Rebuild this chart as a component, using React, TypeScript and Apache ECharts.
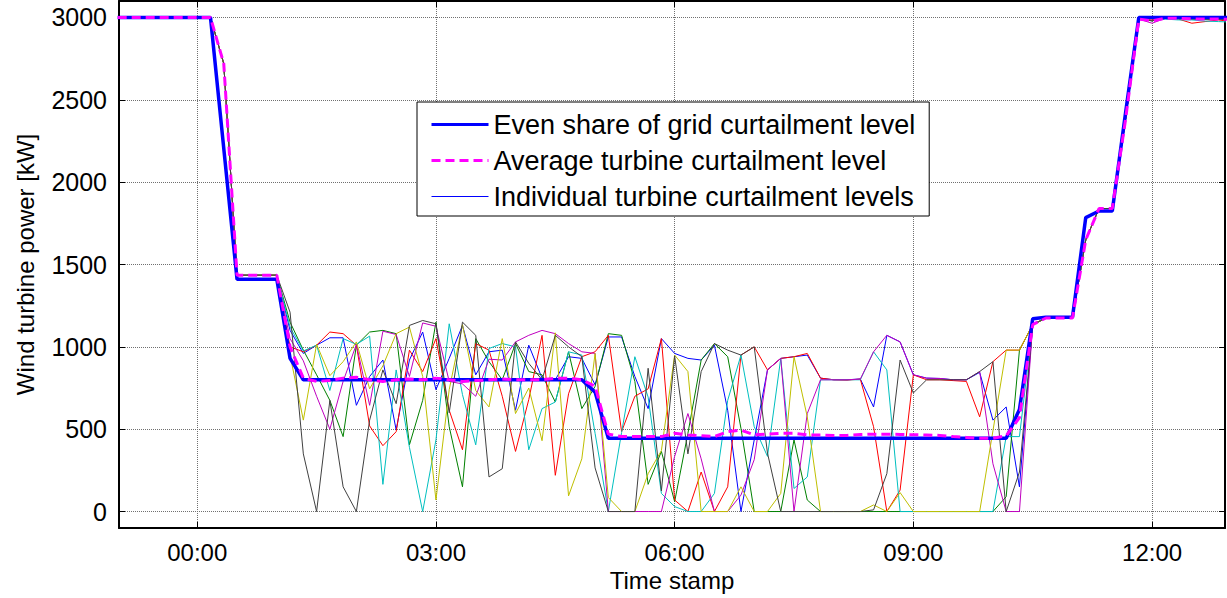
import React, { useEffect, useRef } from "react";
import * as echarts from "echarts";

// Sampling instants in minutes after midnight (10-minute resolution)
const sampleMinutes: number[] = [];
for (let m = -60; m <= 780; m += 10) sampleMinutes.push(m);

const timeTicks = [0, 180, 360, 540, 720];
const powerTicks = [0, 500, 1000, 1500, 2000, 2500, 3000];

const SERIES_EVEN = "Even share of grid curtailment level";
const SERIES_AVG = "Average turbine curtailment level";
const SERIES_IND = "Individual turbine curtailment levels";

// Even share of the grid curtailment level [kW]
const evenShareHead = [3000, 3000, 3000, 3000, 3000, 3000, 3000, 3000, null, 1410, 1410, 1410, 1410];
const evenShareMid = [
  930, 800, 800, 800, 800, 800, 800, 800, 800, 800,
  800, 800, 800, 800, 800, 800, 800, 800, 800, 800,
  800, 800, 800, 725, 445, 445, 445, 445, 445, 445,
  445, 445, 445, 445, 445, 445, 445, 445, 445, 445,
  445, 445, 445, 445, 445, 445, 445, 445, 445, 445,
  445, 445, 445, 445, 445, 620,
];
const evenShareTail = [1170, 1180, 1180, 1180, 1785, 1825, 1825, 2420, 3000, 3000, 3000, 3000, 3000, 3000, 3000, 3000];

// Shared turbine ramp-down before curtailment and ramp-up after it [kW]
const turbineHead = [3000, 3000, 3000, 3000, 3000, 3000, 3000, 3000, 2720, 1435, 1435, 1435, 1435];
const turbineTail = [1135, 1175, 1175, 1175, 1650, 1840, 1840, 2380, 2990, 2980, 2995, 2995, 2992, 2990, 2990, 2988];
const turbineTailRed = [1135, 1175, 1175, 1175, 1650, 1840, 1840, 2380, 2990, 2985, 2995, 2990, 2965, 2975, 2985, 2975];
const turbineTailCyan = [1135, 1175, 1175, 1175, 1650, 1840, 1840, 2380, 2990, 2980, 2990, 2985, 2985, 2978, 2975, 2972];
const turbineTailMagenta = [1135, 1175, 1175, 1175, 1650, 1840, 1840, 2380, 2990, 2965, 2995, 2995, 3000, 2995, 2995, 2990];

// Average turbine curtailment level during curtailment [kW]
const averageMid = [
  1000, 810, 790, 795, 810, 815, 800, 790, 800, 805,
  800, 810, 800, 790, 795, 800, 805, 800, 800, 800,
  810, 810, 800, 760, 470, 455, 455, 455, 455, 475,
  465, 460, 455, 485, 495, 465, 470, 475, 475, 465,
  465, 462, 462, 468, 470, 470, 468, 466, 465, 462,
  455, 450, 445, 445, 460, 570,
];

// Individual turbine curtailment levels during curtailment [kW]
const turbine1 = [
  1100, 960, 1010, 1055, 1055, 645, 820, 920, 495, 920,
  1090, 740, 930, 1130, 830, 970, 980, 615, 1010, 810,
  800, 940, 930, 770, 1060, 1060, 820, 625, 1050, 960,
  930, 920, 1010, 615, 0, 435, 860, 930, 940, 950,
  810, 800, 800, 805, 635, 1070, 1030, 830, 810, 808,
  800, 800, 845, 555, 635, 150,
];
const turbine2 = [
  1150, 980, 830, 675, 455, 1010, 1090, 1100, 1080, 405,
  675, 1150, 515, 150, 1050, 910, 800, 1020, 850, 830,
  665, 970, 625, 760, 1080, 1070, 790, 165, 365, 60,
  475, 920, 1020, 940, 505, 0, 0, 0, 435, 70,
  0, 0, 0, 0, 0, 0, 0, 0, 0, 0,
  0, 0, 0, 0, 90, 980,
];
const turbine3 = [
  1000, 970, 1010, 1090, 1080, 1010, 520, 400, 485, 980,
  850, 1050, 615, 375, 1020, 980, 700, 365, 680, 1070,
  220, 715, 940, 970, 1070, 485, 700, 745, 1050, 70,
  0, 240, 0, 150, 950, 1000, 860, 930, 940, 960,
  810, 800, 798, 804, 515, 0, 130, 830, 800, 800,
  795, 790, 575, 910, 980, 980,
];
const turbine4 = [
  1120, 975, 1010, 735, 1050, 1015, 1065, 165, 860, 390,
  0, 435, 1140, 710, 405, 990, 1020, 1000, 375, 625,
  665, 970, 950, 475, 0, 480, 940, 695, 110, 30,
  0, 0, 110, 675, 950, 515, 335, 930, 140, 210,
  800, 800, 800, 800, 970, 860, 0, 0, 0, 0,
  0, 0, 0, 0, 455, 455,
];
const turbine5 = [
  1050, 915, 700, 500, 790, 1015, 645, 1095, 1075, 820,
  1145, 1125, 790, 775, 700, 925, 920, 1030, 1070, 1100,
  1080, 1020, 970, 960, 0, 0, 0, 0, 0, 335,
  595, 320, 0, 0, 100, 315, 860, 930, 0, 595,
  800, 800, 800, 804, 970, 1070, 1030, 830, 810, 808,
  800, 800, 850, 290, 0, 0,
];
const turbine6 = [
  950, 555, 1015, 825, 910, 1030, 745, 885, 1080, 1120,
  820, 70, 740, 1135, 735, 635, 1050, 595, 750, 430,
  1085, 95, 320, 960, 85, 0, 0, 230, 370, 950,
  850, 0, 0, 0, 150, 0, 0, 110, 940, 575,
  0, 0, 0, 0, 40, 0, 115, 0, 0, 0,
  0, 0, 0, 490, 980, 980,
];
const turbine7 = [
  1210, 350, 0, 675, 150, 0, 555, 860, 655, 1130,
  1160, 1140, 600, 1150, 1070, 210, 260, 1030, 900, 800,
  1070, 1000, 940, 265, 0, 0, 0, 870, 125, 945,
  350, 850, 1020, 980, 950, 1000, 355, 0, 0, 0,
  0, 0, 0, 0, 10, 230, 920, 720, 800, 800,
  800, 800, 850, 910, 0, 240,
];

const turbines = [
  { name: SERIES_IND, color: "#0000ff", mid: turbine1, tail: turbineTail },
  { name: "Turbine 2", color: "#008000", mid: turbine2, tail: turbineTail },
  { name: "Turbine 3", color: "#ff0000", mid: turbine3, tail: turbineTailRed },
  { name: "Turbine 4", color: "#00bfbf", mid: turbine4, tail: turbineTailCyan },
  { name: "Turbine 5", color: "#bf00bf", mid: turbine5, tail: turbineTailMagenta },
  { name: "Turbine 6", color: "#bfbf00", mid: turbine6, tail: turbineTail },
  { name: "Turbine 7", color: "#404040", mid: turbine7, tail: turbineTail },
];

const FONT = "'Liberation Sans', Arial, Helvetica, sans-serif";

const toPairs = (values: (number | null)[]) =>
  values.map((v, i) => [sampleMinutes[i], v]);

const clockLabel = (v: number) => {
  const h = Math.floor(v / 60);
  const m = Math.round(v - h * 60);
  return `${String(h).padStart(2, "0")}:${String(m).padStart(2, "0")}`;
};

export default function App() {
  const ref = useRef<HTMLDivElement>(null);

  useEffect(() => {
    if (!ref.current) return;
    const chart = echarts.init(ref.current, undefined, { renderer: "svg" });

    const individualSeries = turbines.map((t) => ({
      name: t.name,
      type: "line",
      data: toPairs([...turbineHead, ...t.mid, ...t.tail]),
      showSymbol: false,
      symbol: "none",
      lineStyle: { width: 1, color: t.color },
      itemStyle: { color: t.color },
      z: 2,
      silent: true,
    }));

    const option: any = {
      animation: false,
      backgroundColor: "#ffffff",
      grid: { left: 119, top: 1, width: 1106, height: 527, containLabel: false },
      legend: {
        data: [
          { name: SERIES_EVEN, lineStyle: { width: 3 } },
          { name: SERIES_AVG, lineStyle: { width: 3 } },
          { name: SERIES_IND, lineStyle: { width: 1 } },
        ],
        orient: "vertical",
        left: 417,
        top: 102,
        padding: [9, 14, 6, 13],
        itemWidth: 57,
        itemHeight: 14,
        itemGap: 9,
        backgroundColor: "#ffffff",
        borderColor: "#000000",
        borderWidth: 1,
        selectedMode: false,
        itemStyle: { opacity: 0, borderWidth: 0 },
        textStyle: { fontSize: 27, fontFamily: FONT, color: "#000000" },
        z: 10,
      },
      xAxis: [
        {
          type: "value",
          min: -59,
          max: 775,
          name: "Time stamp",
          nameLocation: "middle",
          nameGap: 40,
          nameTextStyle: { fontSize: 24, fontFamily: FONT, color: "#000000" },
          axisLine: { show: true, onZero: false, lineStyle: { color: "#000000", width: 2 } },
          axisTick: { show: true, inside: true, length: 6, customValues: timeTicks, lineStyle: { color: "#000000" } },
          axisLabel: {
            customValues: timeTicks,
            formatter: clockLabel,
            fontSize: 24,
            fontFamily: FONT,
            color: "#000000",
            margin: 12,
          },
          splitLine: { show: true, lineStyle: { color: "#707070", width: 1, type: [1, 1] } },
        },
        {
          type: "value",
          position: "top",
          min: -59,
          max: 775,
          axisLine: { show: true, onZero: false, lineStyle: { color: "#000000", width: 2 } },
          axisTick: { show: true, inside: true, length: 6, customValues: timeTicks, lineStyle: { color: "#000000" } },
          axisLabel: { show: false },
          splitLine: { show: false },
        },
      ],
      yAxis: [
        {
          type: "value",
          min: -100,
          max: 3100,
          name: "Wind turbine power [kW]",
          nameLocation: "middle",
          nameGap: 82,
          nameTextStyle: { fontSize: 24, fontFamily: FONT, color: "#000000" },
          axisLine: { show: true, onZero: false, lineStyle: { color: "#000000", width: 2 } },
          axisTick: { show: true, inside: true, length: 6, customValues: powerTicks, lineStyle: { color: "#000000" } },
          axisLabel: {
            customValues: powerTicks,
            formatter: (v: number) => String(v),
            fontSize: 25,
            fontFamily: FONT,
            color: "#000000",
            margin: 12,
          },
          splitLine: { show: true, lineStyle: { color: "#707070", width: 1, type: [1, 1] } },
        },
        {
          type: "value",
          position: "right",
          min: -100,
          max: 3100,
          axisLine: { show: true, onZero: false, lineStyle: { color: "#000000", width: 2 } },
          axisTick: { show: true, inside: true, length: 6, customValues: powerTicks, lineStyle: { color: "#000000" } },
          axisLabel: { show: false },
          splitLine: { show: false },
        },
      ],
      series: [
        ...individualSeries,
        {
          name: SERIES_EVEN,
          type: "line",
          data: toPairs([...evenShareHead, ...evenShareMid, ...evenShareTail]),
          connectNulls: true,
          showSymbol: false,
          symbol: "none",
          lineStyle: { width: 3.5, color: "#0000ff" },
          itemStyle: { color: "#0000ff" },
          z: 3,
          silent: true,
        },
        {
          name: SERIES_AVG,
          type: "line",
          data: toPairs([...turbineHead, ...averageMid, ...turbineTail]),
          showSymbol: false,
          symbol: "none",
          lineStyle: { width: 3, color: "#ff00ff", type: [9, 5] },
          itemStyle: { color: "#ff00ff" },
          z: 4,
          silent: true,
        },
      ],
    };

    chart.setOption(option);
    return () => chart.dispose();
  }, []);

  return (
    <div
      ref={ref}
      style={{ position: "fixed", left: 0, top: 0, width: 1227, height: 598, background: "#ffffff" }}
    />
  );
}
